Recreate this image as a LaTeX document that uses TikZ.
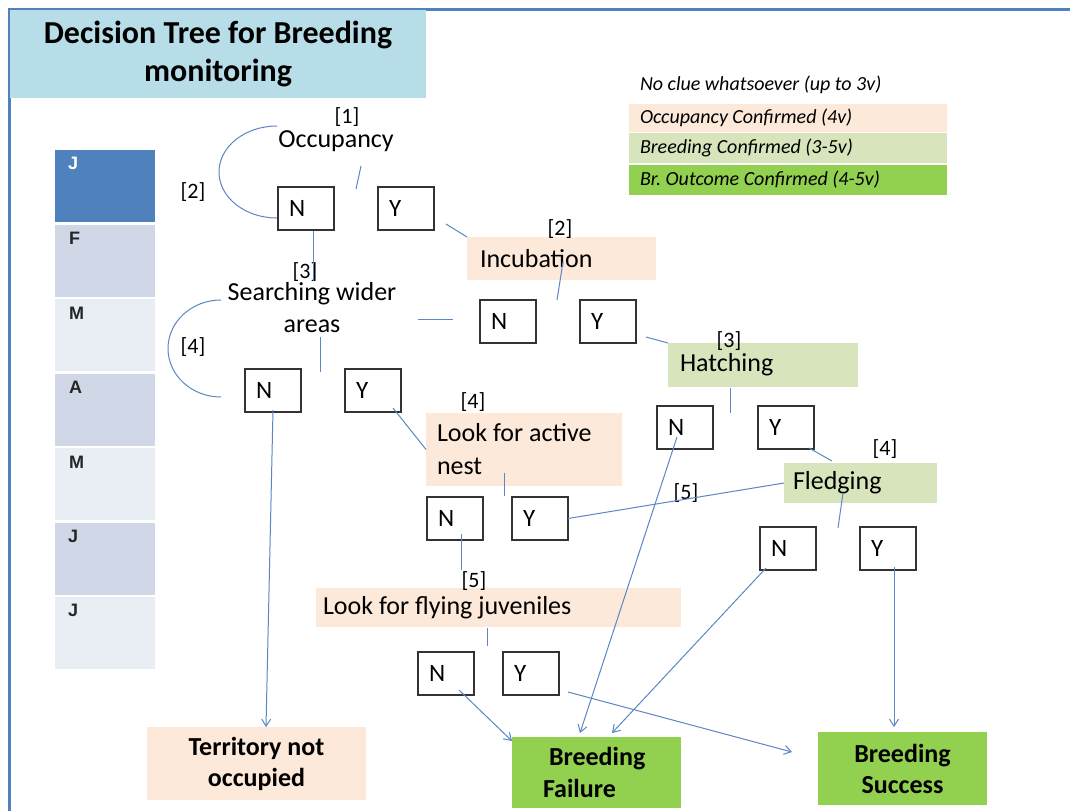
\documentclass[tikz,border=0pt]{standalone}
\usepackage{fontspec}
\setmainfont{Carlito}
\newfontfamily\arialfont{Liberation Sans}
\usetikzlibrary{arrows.meta}
\definecolor{frameblue}{HTML}{4F81BD}
\definecolor{titleblue}{HTML}{B7DEE8}
\definecolor{peach}{HTML}{FDE9D9}
\definecolor{lightgreen}{HTML}{D7E4BC}
\definecolor{brightgreen}{HTML}{92D050}
\definecolor{monthA}{HTML}{D0D8E8}
\definecolor{monthB}{HTML}{E9EDF4}
\definecolor{linkblue}{HTML}{5B87C2}
\begin{document}
\begin{tikzpicture}[x=1pt,y=-1pt,
  every node/.style={inner sep=0pt, outer sep=0pt},
  txt/.style={font=\fontsize{26}{32}\selectfont},
  num/.style={font=\fontsize{22}{26}\selectfont},
  yn/.style={draw=black!80, line width=1.3pt, fill=white, anchor=north west,
    text width=34pt, inner xsep=11pt, minimum height=43pt, align=flush left,
    font=\fontsize{25}{28}\selectfont},
  fbox/.style={anchor=north west, align=flush left, font=\fontsize{26}{33}\selectfont},
  endbox/.style={anchor=north west, align=flush center, font=\bfseries\fontsize{26}{31}\selectfont},
  legbox/.style={anchor=north west, align=flush left, text width=296pt, inner xsep=11pt,
    font=\itshape\fontsize{20}{24}\selectfont},
  month/.style={anchor=north west, minimum width=100pt, minimum height=72pt},
  mlab/.style={anchor=north west, font=\arialfont\bfseries\fontsize{18}{20}\selectfont, text=black!85},
  link/.style={draw=linkblue, line width=1pt},
  arr/.style={link, -{Straight Barb[length=7pt,width=9pt]}}
]
\useasboundingbox (0,0) rectangle (1070,811);
\fill[white] (0,0) rectangle (1070,811);
% frame
\draw[frameblue, line width=3pt] (1070,9) -- (9,9) -- (9,811);
% title
\node[anchor=north west, fill=titleblue, minimum width=416pt, minimum height=88pt,
  align=center, font=\bfseries\fontsize{32}{38}\selectfont] (title) at (10,10)
  {Decision Tree for Breeding\\monitoring};
% legend
\node[anchor=west, font=\itshape\fontsize{20}{24}\selectfont] (leg0) at (640,85) {No clue whatsoever (up to 3v)};
\node[legbox, fill=peach, minimum height=28pt] (leg1) at (629,104) {Occupancy Confirmed (4v)};
\node[legbox, fill=lightgreen, minimum height=30pt] (leg2) at (629,133) {Breeding Confirmed (3-5v)};
\node[legbox, fill=brightgreen, minimum height=30pt] (leg3) at (629,165) {Br.\ Outcome Confirmed (4-5v)};
% months
\node[month, fill=frameblue] (m1) at (55,150) {};
\node[month, fill=monthA] (m2) at (55,225) {};
\node[month, fill=monthB] (m3) at (55,299) {};
\node[month, fill=monthA] (m4) at (55,374) {};
\node[month, fill=monthB] (m5) at (55,448) {};
\node[month, fill=monthA] (m6) at (55,523) {};
\node[month, fill=monthB] (m7) at (55,597) {};
\node[mlab, text=white] (l1) at (68,157) {J};
\node[mlab] (l2) at (69,232) {F};
\node[mlab] (l3) at (69,307) {M};
\node[mlab] (l4) at (69,381) {A};
\node[mlab] (l5) at (69,456) {M};
\node[mlab] (l6) at (68,530) {J};
\node[mlab] (l7) at (68,604) {J};
% occupancy
\node[num] (k1) at (347,117) {[1]};
\node[txt] (occ) at (336,141) {Occupancy};
\node[num] (k2) at (193,192) {[2]};
\node[yn] (n1) at (278,187) {N};
\node[yn] (y1) at (378,187) {Y};
% incubation
\node[fbox, fill=peach, text width=163pt, inner xsep=13pt, minimum height=43pt] (inc) at (467,237) {Incubation};
\node[num] (k2b) at (560,229) {[2]};
\node[yn] (n2) at (480,300) {N};
\node[yn] (y2) at (580,300) {Y};
% searching
\node[num] (k3) at (305,272) {[3]};
\node[txt, align=center] (sw) at (312,308) {Searching wider\\areas};
\node[num] (k4) at (193,347) {[4]};
\node[yn] (n3) at (245,369) {N};
\node[yn] (y3) at (345,369) {Y};
% hatching
\node[fbox, fill=lightgreen, text width=166pt, inner xsep=12pt, minimum height=44pt] (hat) at (668,343) {Hatching};
\node[num] (k3b) at (729,341) {[3]};
\node[yn] (n6) at (657,406) {N};
\node[yn] (y6) at (758,406) {Y};
% look for active nest
\node[fbox, fill=peach, text width=174pt, inner xsep=11pt, minimum height=73pt] (act) at (426,413) {Look for active\\nest};
\node[num] (k4b) at (473,402) {[4]};
\node[yn] (n4) at (427,497) {N};
\node[yn] (y4) at (512,497) {Y};
% fledging
\node[fbox, fill=lightgreen, text width=135pt, inner xsep=9pt, minimum height=40pt] (fle) at (784,463) {Fledging};
\node[num] (k4c) at (885,449) {[4]};
\node[num] (k5) at (686,493) {[5]};
\node[yn] (n7) at (760,527) {N};
\node[yn] (y7) at (860,527) {Y};
% flying juveniles
\node[fbox, fill=peach, text width=351pt, inner xsep=7pt, minimum height=39pt] (fly) at (316,588) {Look for flying juveniles};
\node[num] (k5b) at (474,581) {[5]};
\node[yn] (n5) at (418,652) {N};
\node[yn] (y5) at (503,652) {Y};
% outcomes
\node[endbox, fill=peach, minimum width=219pt, minimum height=73pt] (terr) at (147,727) {Territory not\\occupied};
\node[anchor=north west, fill=brightgreen, minimum height=71pt, align=flush left, text width=107pt, inner xsep=31pt, font=\bfseries\fontsize{26}{32}\selectfont] (fail) at (512,737) {\hspace*{6pt}Breeding\\Failure};
\node[endbox, fill=brightgreen, minimum width=169pt, minimum height=73pt] (succ) at (818,732) {Breeding\\Success};
% arcs
\draw[link] (277,126) arc[start angle=90, end angle=270, x radius=58pt, y radius=46pt];
\draw[link] (221,300) arc[start angle=90, end angle=270, x radius=53pt, y radius=48.5pt];
% connector end points
\coordinate (c1) at (356,189);
\coordinate (c2) at (313,281);
\coordinate (c3) at (557,300);
\coordinate (c4) at (418,319);
\coordinate (c5) at (320,372);
\coordinate (c6) at (504,496);
\coordinate (c7) at (461,570);
\coordinate (c8) at (487,646);
\coordinate (c9) at (730,413);
\coordinate (c10) at (838,528);
% stubs
\draw[link] (361,166) -- (c1);
\draw[link] (563,262) -- (c3);
\draw[link] (320,337) -- (c5);
\draw[link] (504,473) -- (c6);
\draw[link] (487,628) -- (c8);
\draw[link] (730,388) -- (c9);
\draw[link] (843,493) -- (c10);
% links between nodes
\draw[link] (313,231) -- (c2);
\draw[link] (446,224) -- (inc.north west);
\draw[link] (453,319) -- (c4);
\draw[link] (393,408) -- (act.west);
\draw[link] (y4.east) -- (fle.west);
\draw[link] (461,534) -- (c7);
\draw[link] (646,337) -- (hat.north west);
\draw[link] (809,448) -- (832,461);
\draw[arr] (273,410) -- (266,727);
\draw[arr] (459,690) -- (512,741);
\draw[arr] (568,692) -- (792,752);
\draw[arr] (677,437) -- (580,733);
\draw[arr] (766,568) -- (612,733);
\draw[arr] (894,567) -- (894,727);
\end{tikzpicture}
\end{document}
